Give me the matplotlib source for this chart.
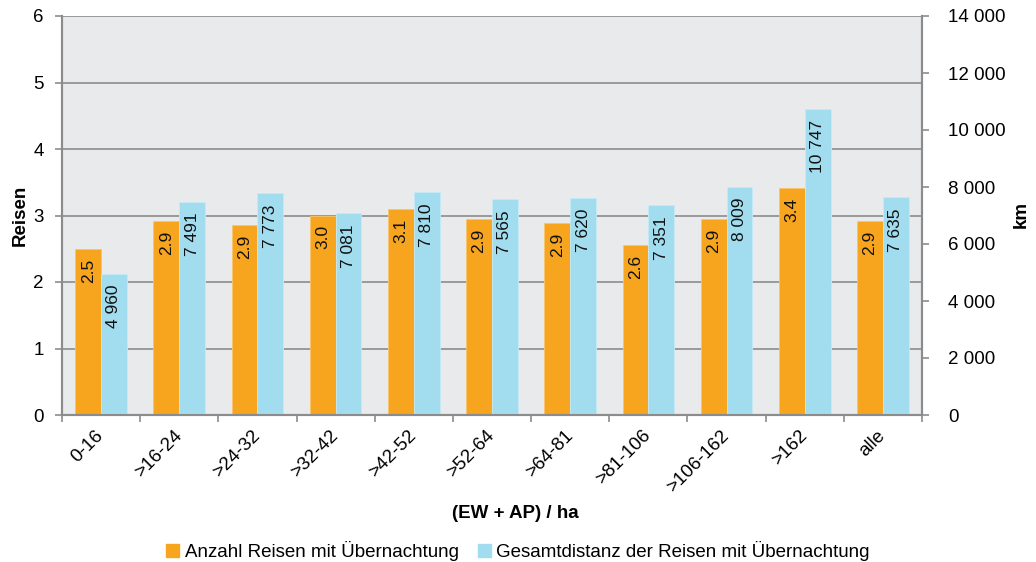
import matplotlib.pyplot as plt
import numpy as np
from matplotlib.patches import Patch
from matplotlib.ticker import FuncFormatter

plt.rcParams['font.family'] = ['Liberation Sans', 'DejaVu Sans']

# Reisen mit Übernachtung nach Siedlungsdichte
klassen = ['0-16', '>16-24', '>24-32', '>32-42', '>42-52', '>52-64',
           '>64-81', '>81-106', '>106-162', '>162', 'alle']
anzahl_reisen = [2.49, 2.91, 2.86, 3.00, 3.10, 2.94, 2.89, 2.56, 2.94, 3.41, 2.92]
distanz_km = [4960, 7491, 7773, 7081, 7810, 7565, 7620, 7351, 8009, 10747, 7635]

orange = '#F7A41E'
blau = '#A2DCEF'
grau = '#8C8C8C'
fs = 13.5

fig = plt.figure(figsize=(10.36, 5.62), dpi=100)
ax = fig.add_axes([62/1036, 1 - 415/562, 860/1036, 399/562])
ax2 = ax.twinx()

x = np.arange(len(klassen))
w = 0.33

ax.set_facecolor('#E9EAEC')
ax.bar(x - w/2, anzahl_reisen, w, color=orange, edgecolor='#FBC46A', linewidth=0.6, zorder=2)
ax2.bar(x + w/2, distanz_km, w, color=blau, edgecolor='#C4EAF6', linewidth=0.6, zorder=2)

for xi, v in zip(x, anzahl_reisen):
    ax.annotate('%.1f' % v, (xi - w/2, v), xytext=(0, -7), textcoords='offset points',
                rotation=90, ha='center', va='top', fontsize=12.5, color='#111111')
for xi, v in zip(x, distanz_km):
    ax2.annotate(f'{v:,}'.replace(',', ' '), (xi + w/2, v), xytext=(0, -8),
                 textcoords='offset points', rotation=90, ha='center', va='top',
                 fontsize=12.5, color='#111111')

ax.set_xlim(-0.5, len(klassen) - 0.5)
ax.set_ylim(0, 6)
ax2.set_ylim(0, 14000)
ax.set_yticks(range(0, 7))
ax2.set_yticks(range(0, 14001, 2000))
ax2.yaxis.set_major_formatter(FuncFormatter(lambda v, p: f'{int(v):,}'.replace(',', ' ')))

ax.yaxis.grid(True, color=grau, linewidth=1.2)
ax.set_axisbelow(True)

# Kategorien mittig, Striche an den Gruppengrenzen
ax.set_xticks(x)
ax.set_xticklabels(klassen, rotation=45, ha='right', va='center', rotation_mode='anchor', fontsize=fs)
ax.set_xticks(np.arange(len(klassen) + 1) - 0.5, minor=True)
ax.tick_params(axis='x', which='major', length=0, pad=13)
ax.tick_params(axis='x', which='minor', length=5, color=grau, width=1.2)
ax.tick_params(axis='y', length=5, color=grau, width=1.2, labelsize=fs, pad=8)
ax2.tick_params(axis='y', length=5, color=grau, width=1.2, labelsize=fs, pad=14)

for a in (ax, ax2):
    a.spines['top'].set_visible(False)
    for s in ('left', 'right', 'bottom'):
        a.spines[s].set_color(grau)
        a.spines[s].set_linewidth(1.5)

fig.text(20/1036, 1 - 215/562, 'Reisen', rotation=90, fontsize=fs, fontweight='bold',
         ha='center', va='center')
fig.text(1021/1036, 1 - 215/562, 'km', rotation=90, fontsize=fs, fontweight='bold',
         ha='center', va='center')
fig.text(515/1036, 1 - 513/562, '(EW + AP) / ha', fontsize=fs, fontweight='bold',
         ha='center', va='center')

handles = [Patch(color=orange, label='Anzahl Reisen mit Übernachtung'),
           Patch(color=blau, label='Gesamtdistanz der Reisen mit Übernachtung')]
fig.legend(handles=handles, loc='center', bbox_to_anchor=(0.5, 1 - 551/562), ncol=2,
           frameon=False, fontsize=fs, handlelength=0.7, handleheight=0.7,
           handletextpad=0.3, columnspacing=1.0)

fig.savefig('out.png', dpi=100, facecolor='white')
